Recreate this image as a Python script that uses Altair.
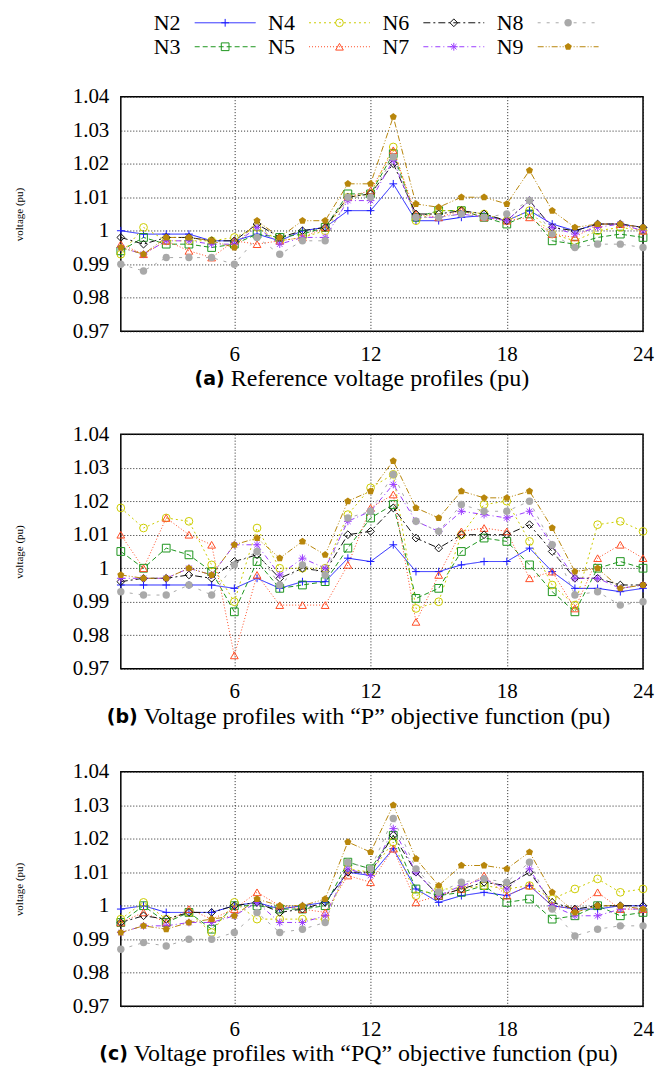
import altair as alt
import pandas as pd

hours = list(range(1, 25))
series_names = ["N2", "N3", "N4", "N5", "N6", "N7", "N8", "N9"]

# (a) Reference voltage profiles
ref_n2 = [1.000, 0.999, 0.999, 0.999, 0.997, 0.997, 0.999, 0.997, 1.000, 1.001, 1.006, 1.006, 1.014, 1.003, 1.003, 1.004, 1.0045, 1.003, 1.006, 1.002, 1.000, 1.002, 1.002, 1.001]
ref_n3 = [0.994, 0.998, 0.996, 0.996, 0.995, 0.996, 0.999, 0.998, 0.999, 1.001, 1.011, 1.011, 1.023, 1.004, 1.006, 1.006, 1.004, 1.002, 1.005, 0.997, 0.996, 0.998, 0.999, 0.998]
ref_n4 = [0.993, 1.001, 0.997, 0.997, 0.997, 0.998, 1.001, 0.997, 0.998, 1.000, 1.010, 1.011, 1.025, 1.003, 1.006, 1.006, 1.005, 1.003, 1.006, 0.999, 0.997, 1.000, 1.001, 1.000]
ref_n5 = [0.996, 0.993, 0.997, 0.994, 0.992, 0.997, 0.996, 0.997, 0.998, 1.001, 1.010, 1.012, 1.024, 1.005, 1.004, 1.006, 1.004, 1.003, 1.004, 0.999, 0.998, 1.002, 1.002, 1.000]
ref_n6 = [0.998, 0.996, 0.998, 0.998, 0.997, 0.997, 1.002, 0.998, 1.000, 1.001, 1.010, 1.011, 1.020, 1.005, 1.005, 1.006, 1.005, 1.003, 1.009, 1.001, 1.000, 1.002, 1.002, 1.001]
ref_n7 = [0.995, 0.993, 0.997, 0.997, 0.996, 0.996, 1.001, 0.996, 0.998, 0.998, 1.009, 1.009, 1.021, 1.004, 1.004, 1.005, 1.004, 1.003, 1.009, 1.001, 0.999, 1.001, 1.002, 1.000]
ref_n8 = [0.990, 0.988, 0.992, 0.992, 0.992, 0.990, 0.998, 0.993, 0.997, 0.997, 1.010, 1.010, 1.022, 1.004, 1.004, 1.005, 1.004, 1.005, 1.009, 0.999, 0.995, 0.996, 0.996, 0.995]
ref_n9 = [0.995, 0.993, 0.998, 0.998, 0.997, 0.995, 1.003, 0.998, 1.003, 1.003, 1.014, 1.014, 1.034, 1.008, 1.007, 1.010, 1.010, 1.008, 1.018, 1.006, 1.001, 1.002, 1.002, 1.001]

# (b) "P" objective function
p_n2 = [0.995, 0.995, 0.995, 0.995, 0.995, 0.994, 0.997, 0.994, 0.996, 0.996, 1.003, 1.002, 1.007, 0.999, 0.999, 1.001, 1.002, 1.002, 1.006, 0.999, 0.994, 0.994, 0.993, 0.994]
p_n3 = [1.005, 1.000, 1.006, 1.004, 0.999, 0.987, 1.002, 0.994, 0.995, 0.996, 1.006, 1.015, 1.019, 0.991, 0.994, 1.005, 1.009, 1.008, 1.001, 0.993, 0.987, 1.000, 1.002, 1.000]
p_n4 = [1.018, 1.012, 1.015, 1.014, 1.001, 0.990, 1.012, 1.000, 1.000, 1.000, 1.016, 1.024, 1.028, 0.988, 0.990, 1.010, 1.019, 1.020, 1.008, 0.995, 0.989, 1.013, 1.014, 1.011]
p_n5 = [1.010, 1.000, 1.015, 1.010, 1.007, 0.974, 0.998, 0.989, 0.989, 0.989, 1.001, 1.018, 1.022, 0.984, 0.998, 1.011, 1.012, 1.011, 0.997, 0.999, 0.988, 1.003, 1.007, 1.003]
p_n6 = [0.996, 0.997, 0.997, 0.998, 0.997, 1.002, 1.004, 0.997, 1.000, 0.999, 1.010, 1.011, 1.018, 1.009, 1.006, 1.010, 1.010, 1.010, 1.013, 1.005, 0.997, 0.997, 0.995, 0.995]
p_n7 = [0.997, 0.997, 0.997, 1.000, 0.998, 1.007, 1.007, 0.998, 1.003, 1.000, 1.014, 1.017, 1.025, 1.014, 1.011, 1.017, 1.016, 1.015, 1.017, 1.007, 0.997, 0.997, 0.994, 0.995]
p_n8 = [0.993, 0.992, 0.992, 0.995, 0.992, 1.001, 1.005, 0.995, 1.001, 0.998, 1.015, 1.017, 1.028, 1.014, 1.011, 1.019, 1.017, 1.017, 1.020, 1.007, 0.992, 0.993, 0.989, 0.990]
p_n9 = [0.998, 0.997, 0.997, 1.000, 0.998, 1.007, 1.009, 1.003, 1.008, 1.004, 1.020, 1.023, 1.032, 1.018, 1.015, 1.023, 1.021, 1.021, 1.023, 1.012, 0.999, 1.000, 0.994, 0.995]

# (c) "PQ" objective function
pq_n2 = [0.999, 1.000, 0.998, 0.998, 0.998, 1.000, 1.001, 0.999, 1.000, 1.001, 1.010, 1.009, 1.017, 1.005, 1.001, 1.003, 1.004, 1.003, 1.006, 1.000, 0.999, 0.999, 1.000, 1.000]
pq_n3 = [0.995, 1.000, 0.995, 0.998, 0.993, 1.000, 1.000, 0.999, 0.999, 1.000, 1.013, 1.011, 1.021, 1.005, 1.003, 1.004, 1.006, 1.001, 1.002, 0.996, 0.997, 1.000, 0.997, 0.998]
pq_n4 = [0.996, 1.001, 0.996, 0.998, 0.992, 1.001, 0.996, 0.996, 0.996, 0.996, 1.011, 1.010, 1.019, 1.003, 1.005, 1.005, 1.006, 1.005, 1.006, 1.002, 1.005, 1.008, 1.004, 1.005]
pq_n5 = [0.995, 0.998, 0.995, 0.999, 0.996, 0.999, 1.004, 1.000, 0.999, 0.998, 1.009, 1.007, 1.017, 1.001, 1.003, 1.005, 1.009, 1.003, 1.006, 1.000, 0.999, 1.004, 0.999, 0.999]
pq_n6 = [0.995, 0.997, 0.996, 0.998, 0.998, 1.000, 1.001, 0.998, 0.999, 1.001, 1.010, 1.010, 1.021, 1.010, 1.003, 1.005, 1.007, 1.006, 1.010, 1.001, 0.999, 1.000, 1.000, 1.000]
pq_n7 = [0.992, 0.994, 0.994, 0.995, 0.995, 0.997, 1.001, 0.995, 0.995, 0.997, 1.011, 1.009, 1.023, 1.010, 1.003, 1.006, 1.008, 1.005, 1.011, 1.000, 0.997, 0.997, 0.999, 0.999]
pq_n8 = [0.987, 0.989, 0.988, 0.990, 0.990, 0.992, 0.998, 0.992, 0.993, 0.995, 1.013, 1.011, 1.026, 1.011, 1.004, 1.007, 1.008, 1.007, 1.013, 0.999, 0.991, 0.993, 0.994, 0.994]
pq_n9 = [0.992, 0.994, 0.993, 0.995, 0.996, 0.997, 1.002, 1.000, 1.000, 1.002, 1.019, 1.016, 1.030, 1.014, 1.006, 1.012, 1.012, 1.011, 1.016, 1.004, 0.998, 1.000, 1.000, 0.999]

y_ticks = [0.97, 0.98, 0.99, 1.0, 1.01, 1.02, 1.03, 1.04]
x_ticks = [6, 12, 18, 24]

colors = ["#1a1aff", "#1e961e", "#cccc00", "#ff4d26", "#111111", "#9b3cff", "#a9a9a9", "#b8860b"]
dashes = [[1, 0], [5, 3], [2, 3], [1, 2], [7, 3, 2, 3], [5, 3, 1, 3], [3, 6], [6, 2, 1, 2, 1, 2]]
PLUS = "M-1,0L1,0M0,-1L0,1"
STAR = "M-1,0L1,0M0,-1L0,1M-0.7,-0.7L0.7,0.7M-0.7,0.7L0.7,-0.7"
PENT = "M0,-1L0.951,-0.309L0.588,0.809L-0.588,0.809L-0.951,-0.309Z"
shapes = [PLUS, "square", "circle", "triangle-up", "diamond", STAR, "circle", PENT]
filled_series = ["N8", "N9"]

SERIF = "Liberation Serif"
W, H = 523, 235


def long_df(lists):
    rows = []
    for name, vals in zip(series_names, lists):
        for h, v in zip(hours, vals):
            rows.append({"series": name, "hour": h, "value": v})
    return pd.DataFrame(rows)


df_a = long_df([ref_n2, ref_n3, ref_n4, ref_n5, ref_n6, ref_n7, ref_n8, ref_n9])
df_b = long_df([p_n2, p_n3, p_n4, p_n5, p_n6, p_n7, p_n8, p_n9])
df_c = long_df([pq_n2, pq_n3, pq_n4, pq_n5, pq_n6, pq_n7, pq_n8, pq_n9])

color_scale = alt.Scale(domain=series_names, range=colors)
dash_scale = alt.Scale(domain=series_names, range=dashes)
shape_scale = alt.Scale(domain=series_names, range=shapes)


def panel(df, letter, text, cap_x):
    x = alt.X("hour:Q", scale=alt.Scale(domain=[1, 24], nice=False, zero=False),
              axis=alt.Axis(values=x_ticks, title=None, grid=True, gridDash=[1, 2],
                            gridColor="#222222", gridWidth=1, ticks=False, domain=False,
                            labelFont=SERIF, labelFontSize=21, labelColor="black",
                            labelPadding=12, labelFlush=False, labelOverlap=False))
    y = alt.Y("value:Q", scale=alt.Scale(domain=[0.97, 1.04], nice=False, zero=False),
              axis=alt.Axis(values=y_ticks, format="~g", title="voltage (pu)",
                            titleFont=SERIF, titleFontSize=11, titleFontWeight="normal",
                            titleColor="black", titleX=-101, titleY=H / 2, titleAngle=270,
                            titleAlign="center", titleBaseline="middle",
                            grid=True, gridDash=[1, 2], gridColor="#222222", gridWidth=1,
                            ticks=False, domain=False, labelFont=SERIF, labelFontSize=21,
                            labelColor="black", labelPadding=12, labelFlush=False,
                            labelOverlap=False))
    color = alt.Color("series:N", scale=color_scale, legend=None)
    base = alt.Chart(df)
    lines = base.mark_line(strokeWidth=1).encode(
        x=x, y=y, color=color,
        strokeDash=alt.StrokeDash("series:N", scale=dash_scale, legend=None))
    open_pts = base.transform_filter(
        alt.FieldOneOfPredicate(field="series", oneOf=series_names[:6])
    ).mark_point(filled=False, size=60, strokeWidth=1, opacity=1).encode(
        x=x, y=y, color=color, shape=alt.Shape("series:N", scale=shape_scale, legend=None))
    filled_pts = base.transform_filter(
        alt.FieldOneOfPredicate(field="series", oneOf=filled_series)
    ).mark_point(filled=True, size=55, opacity=1).encode(
        x=x, y=y, color=color, shape=alt.Shape("series:N", scale=shape_scale, legend=None))
    cap1 = alt.Chart(pd.DataFrame({"t": [f"({letter})"]})).mark_text(
        font="DejaVu Sans", fontWeight="bold", fontSize=19, align="right",
        baseline="middle", color="black").encode(
        x=alt.value(cap_x), y=alt.value(H + 48), text="t:N")
    cap2 = alt.Chart(pd.DataFrame({"t": [text]})).mark_text(
        font=SERIF, fontSize=24, align="left", baseline="middle", color="black").encode(
        x=alt.value(cap_x + 6), y=alt.value(H + 48), text="t:N")
    return alt.layer(lines, open_pts, filled_pts, cap1, cap2).properties(width=W, height=H)


pa = panel(df_a, "a", "Reference voltage profiles (pu)", 104)
pb = panel(df_b, "b", "Voltage profiles with \u201cP\u201d objective function (pu)", 17)
pc = panel(df_c, "c", "Voltage profiles with \u201cPQ\u201d objective function (pu)", 7)

# legend (4 columns x 2 rows)
leg_col = [0, 0, 1, 1, 2, 2, 3, 3]
leg_row = [0, 1, 0, 1, 0, 1, 0, 1]
leg_df = pd.DataFrame({"series": series_names, "col": leg_col, "row": leg_row})
PITCH = 114.5
lb = alt.Chart(leg_df).transform_calculate(
    tx=f"datum.col * {PITCH} + 33",
    lx1=f"datum.col * {PITCH} + 74",
    lx2=f"datum.col * {PITCH} + 135",
    mx=f"datum.col * {PITCH} + 104.5",
)
lxs = alt.Scale(domain=[0, W], nice=False, zero=False)
lys = alt.Scale(domain=[-0.5, 1.5], nice=False, zero=False, reverse=True)
lcolor = alt.Color("series:N", scale=color_scale, legend=None)
leg_text = lb.mark_text(font=SERIF, fontSize=22, align="left", baseline="middle",
                        color="black").encode(
    x=alt.X("tx:Q", scale=lxs, axis=None), y=alt.Y("row:Q", scale=lys, axis=None),
    text="series:N")
leg_line = lb.mark_rule(strokeWidth=1).encode(
    x=alt.X("lx1:Q", scale=lxs, axis=None), x2="lx2:Q",
    y=alt.Y("row:Q", scale=lys, axis=None), color=lcolor,
    strokeDash=alt.StrokeDash("series:N", scale=dash_scale, legend=None))
leg_open = lb.transform_filter(
    alt.FieldOneOfPredicate(field="series", oneOf=series_names[:6])
).mark_point(filled=False, size=60, strokeWidth=1, opacity=1).encode(
    x=alt.X("mx:Q", scale=lxs, axis=None), y=alt.Y("row:Q", scale=lys, axis=None),
    color=lcolor, shape=alt.Shape("series:N", scale=shape_scale, legend=None))
leg_fill = lb.transform_filter(
    alt.FieldOneOfPredicate(field="series", oneOf=filled_series)
).mark_point(filled=True, size=55, opacity=1).encode(
    x=alt.X("mx:Q", scale=lxs, axis=None), y=alt.Y("row:Q", scale=lys, axis=None),
    color=lcolor, shape=alt.Shape("series:N", scale=shape_scale, legend=None))
legend = alt.layer(leg_line, leg_open, leg_fill, leg_text).properties(
    width=W, height=48, view=alt.ViewBackground(stroke="transparent"))

panels = alt.vconcat(pa, pb, pc, spacing=103, bounds="flush")
chart = alt.vconcat(legend, panels, spacing=38, bounds="flush").properties(
    padding={"left": 13, "top": 9, "right": 2, "bottom": 2},
    background="white",
).configure_view(stroke="black", strokeWidth=1.5)

chart.save("out.html", embed_options={"renderer": "svg", "actions": False})
